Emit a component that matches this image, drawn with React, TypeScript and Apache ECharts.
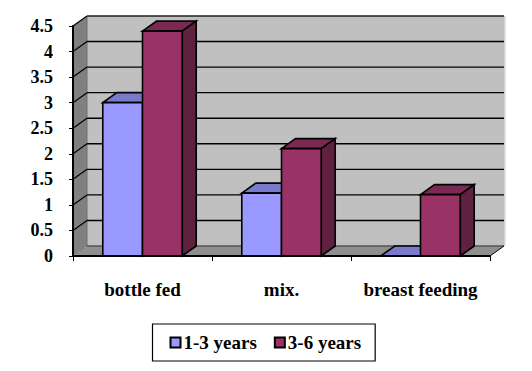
import React, { useEffect, useRef } from "react";
import * as echarts from "echarts";

const categories = ["bottle fed", "mix.", "breast feeding"];
const youngValues = [3, 1.23, 0];
const olderValues = [4.4, 2.1, 1.2];
const yTicks = [0, 0.5, 1, 1.5, 2, 2.5, 3, 3.5, 4, 4.5];
const seriesNames = ["1-3 years", "3-6 years"];

const DX = 14;
const DY = -10;
const FONT = "'Liberation Serif', 'Times New Roman', serif";
const BLACK = "#000000";

function barRenderer(offsetSign: number, front: string, top: string, side: string) {
  return (_p: any, api: any) => {
    const cat = api.value(0);
    const val = api.value(1);
    const step = api.size([1, 0])[0];
    const w = step * 0.2857;
    const c = api.coord([cat, val]);
    const b = api.coord([cat, 0]);
    const x0 = c[0] + (offsetSign < 0 ? -w : 0);
    const x1 = x0 + w;
    const yT = c[1];
    const yB = b[1];
    const line = { stroke: BLACK, lineWidth: 1.6, lineJoin: "miter" };
    return {
      type: "group",
      children: [
        { type: "polygon", shape: { points: [[x0, yT], [x0 + DX, yT + DY], [x1 + DX, yT + DY], [x1, yT]] }, style: { fill: top, ...line } },
        { type: "polygon", shape: { points: [[x1, yT], [x1 + DX, yT + DY], [x1 + DX, yB + DY], [x1, yB]] }, style: { fill: side, ...line } },
        { type: "rect", shape: { x: x0, y: yT, width: w, height: yB - yT }, style: { fill: front, ...line } },
      ],
    };
  };
}

function wallRenderer(params: any, api: any) {
  const sys = params.coordSys;
  const L = sys.x;
  const R = sys.x + sys.width;
  const T = sys.y;
  const B = sys.y + sys.height;
  const y = api.coord([0, api.value(0)])[1];
  const children: any[] = [];
  if (params.dataIndex === 0) {
    children.push(
      { type: "rect", shape: { x: R + DX, y: T + DY, width: 1.5, height: sys.height }, style: { fill: "#d4d4d4" } },
      { type: "polygon", shape: { points: [[L + DX, T + DY], [R + DX, T + DY], [R + DX, B + DY], [L + DX, B + DY]] }, style: { fill: "#c0c0c0" } },
      { type: "polygon", shape: { points: [[L, T], [L + DX, T + DY], [L + DX, B + DY], [L, B]] }, style: { fill: "#808080" } },
      { type: "polygon", shape: { points: [[L, B], [L + DX, B + DY], [R + DX, B + DY], [R, B]] }, style: { fill: "#8f8f8f" } },
      { type: "line", shape: { x1: L + DX, y1: T + DY, x2: L + DX, y2: B + DY }, style: { stroke: "#707070", lineWidth: 1 } }
    );
  }
  const isFloor = api.value(0) === 0;
  const isTop = api.value(0) === yTicks[yTicks.length - 1];
  children.push(
    { type: "line", shape: { x1: L, y1: y, x2: L + DX, y2: y + DY }, style: { stroke: isFloor ? "#666666" : "#000000", lineWidth: isFloor ? 0.8 : 1.2, lineDash: isFloor ? [2, 2] : undefined } },
    { type: "line", shape: { x1: L + DX, y1: y + DY, x2: R + DX, y2: y + DY }, style: { stroke: isFloor ? "#555555" : isTop ? "#222222" : "#000000", lineWidth: 1.4 } }
  );
  if (isFloor) {
    children.push({ type: "line", shape: { x1: R, y1: B, x2: R + DX, y2: B + DY }, style: { stroke: "#000000", lineWidth: 1 } });
  }
  return { type: "group", children };
}

export default function App() {
  const ref = useRef<HTMLDivElement>(null);
  useEffect(() => {
    const chart = echarts.init(ref.current!, undefined, { renderer: "svg" });
    chart.setOption({
      animation: false,
      backgroundColor: "#ffffff",
      grid: { left: 73, top: 26, width: 417, height: 230, containLabel: false },
      legend: {
        left: 152.5,
        top: 324,
        orient: "horizontal",
        data: seriesNames,
        selectedMode: false,
        icon: "rect",
        itemWidth: 10,
        itemHeight: 10,
        itemGap: 17,
        padding: [9, 14, 9, 17],
        borderColor: BLACK,
        borderWidth: 1.2,
        itemStyle: { borderColor: BLACK, borderWidth: 2 },
        textStyle: { fontFamily: FONT, fontSize: 19, fontWeight: "bold", color: BLACK, padding: [2, 0, 0, -2] },
      },
      xAxis: {
        type: "category",
        data: categories,
        z: 6,
        axisLine: { show: true, lineStyle: { color: BLACK, width: 2 } },
        axisTick: { show: true, interval: 0, length: 5, lineStyle: { color: BLACK, width: 1 } },
        axisLabel: { interval: 0, hideOverlap: false, margin: 24, fontFamily: FONT, fontSize: 19, fontWeight: "bold", color: BLACK },
      },
      yAxis: {
        type: "value",
        min: 0,
        max: 4.5,
        interval: 0.5,
        z: 6,
        splitLine: { show: false },
        axisLine: { show: true, lineStyle: { color: BLACK, width: 2 } },
        axisTick: { show: true, length: 4, lineStyle: { color: BLACK, width: 1 } },
        axisLabel: { margin: 20, fontFamily: FONT, fontSize: 18, fontWeight: "bold", color: BLACK, padding: [4, 0, 0, 0] },
      },
      series: [
        {
          type: "custom",
          name: "wall",
          z: 1,
          silent: true,
          clip: false,
          renderItem: wallRenderer,
          encode: { x: -1, y: 0 },
          data: yTicks.map((t) => [t]),
        },
        {
          type: "custom",
          name: seriesNames[0],
          z: 3,
          clip: false,
          itemStyle: { color: "#9999ff", borderColor: BLACK, borderWidth: 2 },
          renderItem: barRenderer(-1, "#9999ff", "#7a7acc", "#5c5c99"),
          encode: { x: 0, y: 1 },
          data: youngValues.map((v, i) => [i, v]),
        },
        {
          type: "custom",
          name: seriesNames[1],
          z: 4,
          clip: false,
          itemStyle: { color: "#993366", borderColor: BLACK, borderWidth: 2 },
          renderItem: barRenderer(1, "#993366", "#7a2952", "#60203f"),
          encode: { x: 0, y: 1 },
          data: olderValues.map((v, i) => [i, v]),
        },
      ],
    });
    return () => chart.dispose();
  }, []);
  return (
    <div
      ref={ref}
      style={{ position: "absolute", left: 0, top: 0, width: 532, height: 371 }}
    />
  );
}
